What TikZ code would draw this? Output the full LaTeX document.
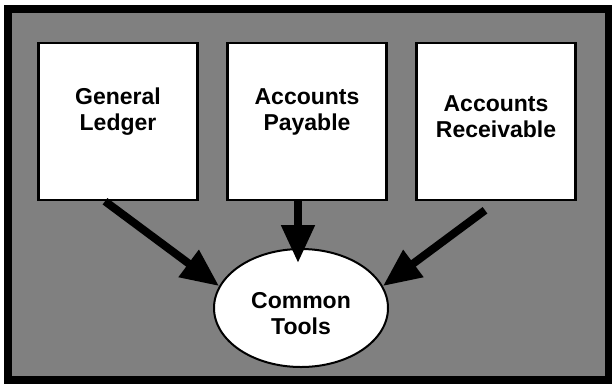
\documentclass[tikz,border=0pt]{standalone}
\usepackage{fontspec}
\setmainfont{Liberation Sans}
\usetikzlibrary{shapes.geometric,arrows.meta,positioning,calc}

\begin{document}
\begin{tikzpicture}[x=1pt,y=-1pt,
  ledgerbox/.style={draw, line width=2.5pt, fill=white, minimum width=159pt, minimum height=157pt},
  boxtext/.style={align=center, font=\fontsize{23}{26}\selectfont\bfseries},
  bigarrow/.style={line width=8pt, -{Triangle[length=38pt,width=32pt]}}]
\useasboundingbox (0,0) rectangle (612,386);
% Frame
\draw[line width=8pt, fill=black!50] (7.5,8.5) rectangle (608.5,380);

% Ledger boxes
\node[ledgerbox] (ledger) at (118,121.5) {};
\node[boxtext] (ledgertext) at (118,112) {General\\Ledger};
\node[ledgerbox] (payable) at (307,121.5) {};
\node[boxtext] (payabletext) at (307,112) {Accounts\\Payable};
\node[ledgerbox] (receivable) at (496,121.5) {};
\node[boxtext] (receivabletext) at (496,117) {Accounts\\Receivable};

% Common tools
\node[draw, ellipse, line width=2pt, fill=white, minimum width=174pt, minimum height=118pt] (tools) at (301,308) {};
\node[boxtext] (toolstext) at (301,314) {Common\\Tools};

% Arrows
\draw[bigarrow] ([xshift=-13pt]ledger.south) -- (tools.165);
\draw[bigarrow, shorten >=-15pt] ([xshift=-9pt]payable.south) -- ([xshift=-3pt]tools.north);
\draw[bigarrow] ([xshift=-11pt, yshift=-9pt]receivable.south) -- (tools.15);
\end{tikzpicture}
\end{document}
